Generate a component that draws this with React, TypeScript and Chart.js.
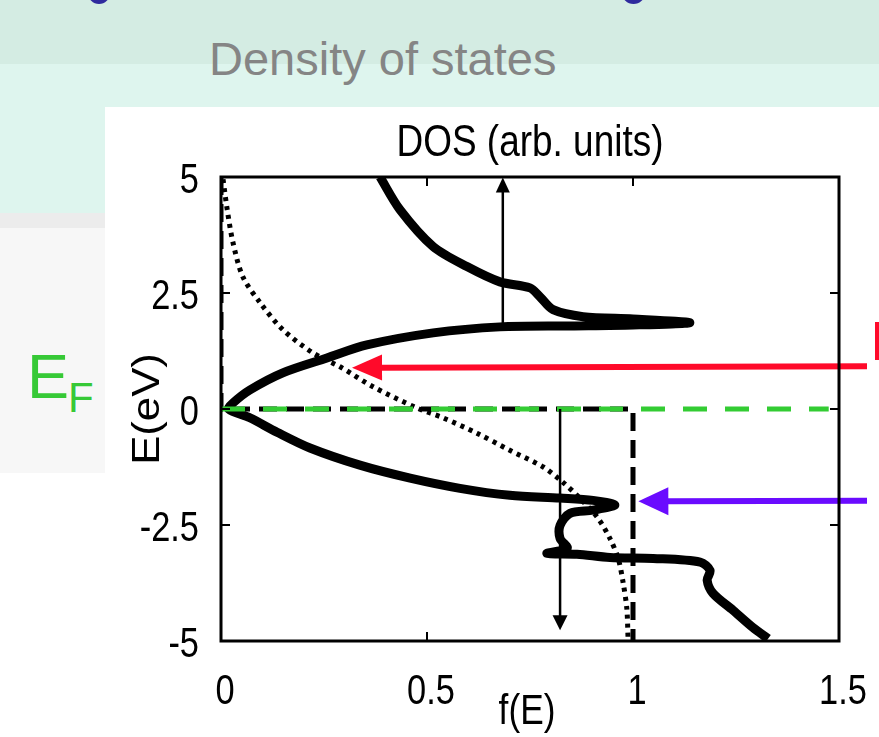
import React, { useEffect, useRef } from "react";
import { Chart, registerables } from "chart.js";
Chart.register(...registerables);

// DOS curve (parametric: energy vs DOS value)
const dosEnergy = [5.0, 4.3, 3.5, 3.07, 2.74, 2.61, 2.42, 2.14, 1.99, 1.94, 1.86, 1.81, 1.79, 1.77, 1.64, 1.38, 1.1, 0.78, 0.41, 0.13, 0, -0.19, -0.5, -0.84, -1.21, -1.49, -1.71, -1.86, -1.92, -1.97, -2.07, -2.18, -2.25, -2.51, -2.79, -3.0, -3.11, -3.13, -3.2, -3.22, -3.3, -3.48, -3.69, -3.97, -4.34, -4.71, -4.95];
const dosValue = [0.386, 0.434, 0.515, 0.597, 0.677, 0.75, 0.774, 0.806, 0.879, 1.0, 1.138, 1.0, 0.85, 0.677, 0.515, 0.354, 0.257, 0.15, 0.07, 0.029, 0.019, 0.07, 0.136, 0.216, 0.337, 0.459, 0.58, 0.701, 0.823, 0.903, 0.956, 0.903, 0.847, 0.823, 0.823, 0.84, 0.791, 0.864, 0.944, 1.049, 1.163, 1.187, 1.18, 1.194, 1.243, 1.291, 1.328];

// Fermi function f(E) at finite T (dotted)
const fermiEnergy = [4.95, 4.3, 3.59, 2.85, 2.29, 1.71, 1.21, 0.91, 0.48, 0.02, -0.19, -0.52, -0.89, -1.25, -1.58, -1.86, -2.33, -2.79, -3.22, -3.74, -4.3, -4.95];
const fermiValue = [0.005, 0.015, 0.029, 0.053, 0.095, 0.15, 0.223, 0.289, 0.369, 0.476, 0.539, 0.621, 0.701, 0.782, 0.83, 0.864, 0.913, 0.944, 0.964, 0.976, 0.985, 0.988];

// Fermi function at T = 0 (dashed step)
const stepEnergy = [5, 0, 0, -5];
const stepValue = [0, 0, 1, 1];

// Fermi level line (green dashed)
const efEnergy = [0, 0];
const efValue = [0, 1.475];

const xTicks = [0, 0.5, 1, 1.5];
const xTickLabels = ["0", "0.5", "1", "1.5"];
const yTicks = [5, 2.5, 0, -2.5, -5];
const yTickLabels = ["5", "2.5", "0", "-2.5", "-5"];

// arrows: [tailX, tailE, tipX, tipE]
const upArrow = [0.684, 1.77, 0.684, 4.99];
const downArrow = [0.823, 0.0, 0.823, -4.77];
const redArrow = [1.568, 0.92, 0.318, 0.89];
const purpleArrow = [1.568, -1.98, 1.013, -1.99];

const FONT = '"Liberation Sans", Arial, Helvetica, sans-serif';

function pts(xs: number[], ys: number[]) {
  return xs.map((x, i) => ({ x, y: ys[i] }));
}

function drawArrow(ctx: CanvasRenderingContext2D, x0: number, y0: number, x1: number, y1: number, lw: number, hl: number, hw: number, color: string) {
  const dx = x1 - x0, dy = y1 - y0;
  const len = Math.hypot(dx, dy);
  const ux = dx / len, uy = dy / len;
  const bx = x1 - ux * hl, by = y1 - uy * hl;
  ctx.save();
  ctx.strokeStyle = color;
  ctx.fillStyle = color;
  ctx.lineWidth = lw;
  ctx.lineCap = "butt";
  ctx.beginPath();
  ctx.moveTo(x0, y0);
  ctx.lineTo(bx + ux * 1, by + uy * 1);
  ctx.stroke();
  ctx.beginPath();
  ctx.moveTo(x1, y1);
  ctx.lineTo(bx - uy * hw, by + ux * hw);
  ctx.lineTo(bx + uy * hw, by - ux * hw);
  ctx.closePath();
  ctx.fill();
  ctx.restore();
}

function drawText(ctx: CanvasRenderingContext2D, text: string, x: number, y: number, size: number, sx: number, align: CanvasTextAlign, rot = 0) {
  ctx.save();
  ctx.translate(x, y);
  if (rot) ctx.rotate(rot);
  ctx.scale(sx, 1);
  ctx.font = `${size}px ${FONT}`;
  ctx.fillStyle = "#000";
  ctx.textAlign = align;
  ctx.textBaseline = "alphabetic";
  ctx.fillText(text, 0, 0);
  ctx.restore();
}

const decorPlugin = {
  id: "decor",
  afterDatasetsDraw(chart: any) {
    const ctx: CanvasRenderingContext2D = chart.ctx;
    const { left, right, top, bottom } = chart.chartArea;
    const xs = chart.scales.x;
    const ys = chart.scales.y;
    const px = (v: number) => xs.getPixelForValue(v);
    const py = (v: number) => ys.getPixelForValue(v);

    // thin black arrows
    drawArrow(ctx, px(upArrow[0]), py(upArrow[1]), px(upArrow[2]), py(upArrow[3]), 2.5, 15, 7, "#000");
    drawArrow(ctx, px(downArrow[0]), py(downArrow[1]), px(downArrow[2]), py(downArrow[3]), 2.5, 15, 7.5, "#000");
    // coloured arrows
    drawArrow(ctx, px(redArrow[0]), py(redArrow[1]), px(redArrow[2]), py(redArrow[3]), 6, 30, 13, "#ff0a2a");
    drawArrow(ctx, px(purpleArrow[0]), py(purpleArrow[1]), px(purpleArrow[2]), py(purpleArrow[3]), 6, 30, 14, "#6a0bff");

    // frame
    ctx.save();
    ctx.strokeStyle = "#000";
    ctx.lineWidth = 3;
    ctx.strokeRect(left, top, right - left, bottom - top);
    ctx.lineWidth = 2;
    ctx.beginPath();
    xTicks.forEach((t) => {
      if (t <= xs.min || t >= xs.max) return;
      ctx.moveTo(px(t), top); ctx.lineTo(px(t), top + 9);
      ctx.moveTo(px(t), bottom); ctx.lineTo(px(t), bottom - 9);
    });
    yTicks.forEach((t) => {
      if (t <= ys.min || t >= ys.max) return;
      ctx.moveTo(left, py(t)); ctx.lineTo(left + 9, py(t));
      ctx.moveTo(right, py(t)); ctx.lineTo(right - 9, py(t));
    });
    ctx.stroke();
    ctx.restore();

    // tick labels
    xTicks.forEach((t, i) => drawText(ctx, xTickLabels[i], px(t) + 4, bottom + 63, 43, 0.8, "center"));
    yTicks.forEach((t, i) => drawText(ctx, yTickLabels[i], left - 22, py(t) + 16, 43, 0.8, "right"));

    // titles
    const cx = (left + right) / 2;
    drawText(ctx, "DOS (arb. units)", cx, top - 21, 44, 0.84, "center");
    drawText(ctx, "f(E)", cx - 3, bottom + 83, 43, 0.82, "center");
    drawText(ctx, "E(eV)", left - 62, (top + bottom) / 2, 38, 1.15, "center", -Math.PI / 2);
  },
};

export default function App() {
  const ref = useRef<HTMLCanvasElement | null>(null);
  useEffect(() => {
    if (!ref.current) return;
    const chart = new Chart(ref.current, {
      type: "scatter",
      data: {
        datasets: [
          {
            label: "E_F",
            data: pts(efValue, efEnergy),
            showLine: true,
            borderColor: "#33cc33",
            borderWidth: 5,
            borderDash: [24, 18],
            pointRadius: 0,
            borderCapStyle: "butt",
            order: 1,
          },
          {
            label: "DOS",
            data: pts(dosValue, dosEnergy),
            showLine: true,
            borderColor: "#000",
            borderWidth: 9,
            tension: 0.3,
            pointRadius: 0,
            borderJoinStyle: "round",
            borderCapStyle: "butt",
            order: 2,
          },
          {
            label: "f(E) T>0",
            data: pts(fermiValue, fermiEnergy),
            showLine: true,
            borderColor: "#000",
            borderWidth: 5,
            borderDash: [4, 5],
            tension: 0.3,
            pointRadius: 0,
            borderCapStyle: "butt",
            order: 3,
          },
          {
            label: "f(E) T=0",
            data: pts(stepValue, stepEnergy),
            showLine: true,
            borderColor: "#000",
            borderWidth: 5,
            borderDash: [18, 9],
            pointRadius: 0,
            borderCapStyle: "butt",
            order: 4,
          },
        ],
      },
      options: {
        animation: false,
        responsive: false,
        devicePixelRatio: 1,
        events: [],
        layout: { padding: { left: 221, right: 40, top: 177, bottom: 96 } },
        plugins: { legend: { display: false }, tooltip: { enabled: false }, title: { display: false } },
        scales: {
          x: { type: "linear", min: 0, max: 1.5, display: false },
          y: { type: "linear", min: -5, max: 5, display: false },
        },
      },
      plugins: [decorPlugin],
    } as any);
    return () => chart.destroy();
  }, []);

  const abs = (s: React.CSSProperties): React.CSSProperties => ({ position: "absolute", ...s });

  return (
    <div style={abs({ left: 0, top: 0, width: 879, height: 737, overflow: "hidden", background: "#fff", fontFamily: FONT })}>
      <div style={abs({ left: 0, top: 0, width: 879, height: 64, background: "#d4ece3" })} />
      <div style={abs({ left: 0, top: 64, width: 879, height: 149, background: "#def5ee" })} />
      <div style={abs({ left: 105, top: 107, width: 774, height: 630, background: "#fff" })} />
      <div style={abs({ left: 0, top: 213, width: 105, height: 15, background: "#ececec" })} />
      <div style={abs({ left: 0, top: 228, width: 105, height: 245, background: "#f7f7f7" })} />
      <div style={abs({ left: 88, top: -18, width: 22, height: 22, borderRadius: "50%", background: "#2f2a9e" })} />
      <div style={abs({ left: 622, top: -18, width: 23, height: 22, borderRadius: "50%", background: "#2f2a9e" })} />
      <div style={abs({ left: 209, top: 35, fontSize: 47, lineHeight: "47px", color: "#858585", whiteSpace: "nowrap" })}>Density of states</div>
      <div style={abs({ left: 27, top: 345, fontSize: 63, lineHeight: "63px", color: "#36c936", whiteSpace: "nowrap" })}>E</div>
      <div style={abs({ left: 68, top: 377, fontSize: 42, lineHeight: "42px", color: "#36c936", whiteSpace: "nowrap" })}>F</div>
      <div style={abs({ left: 875, top: 322, width: 4, height: 38, background: "#ff0a2a" })} />
      <canvas ref={ref} width={879} height={737} style={abs({ left: 0, top: 0, width: 879, height: 737 })} />
    </div>
  );
}
